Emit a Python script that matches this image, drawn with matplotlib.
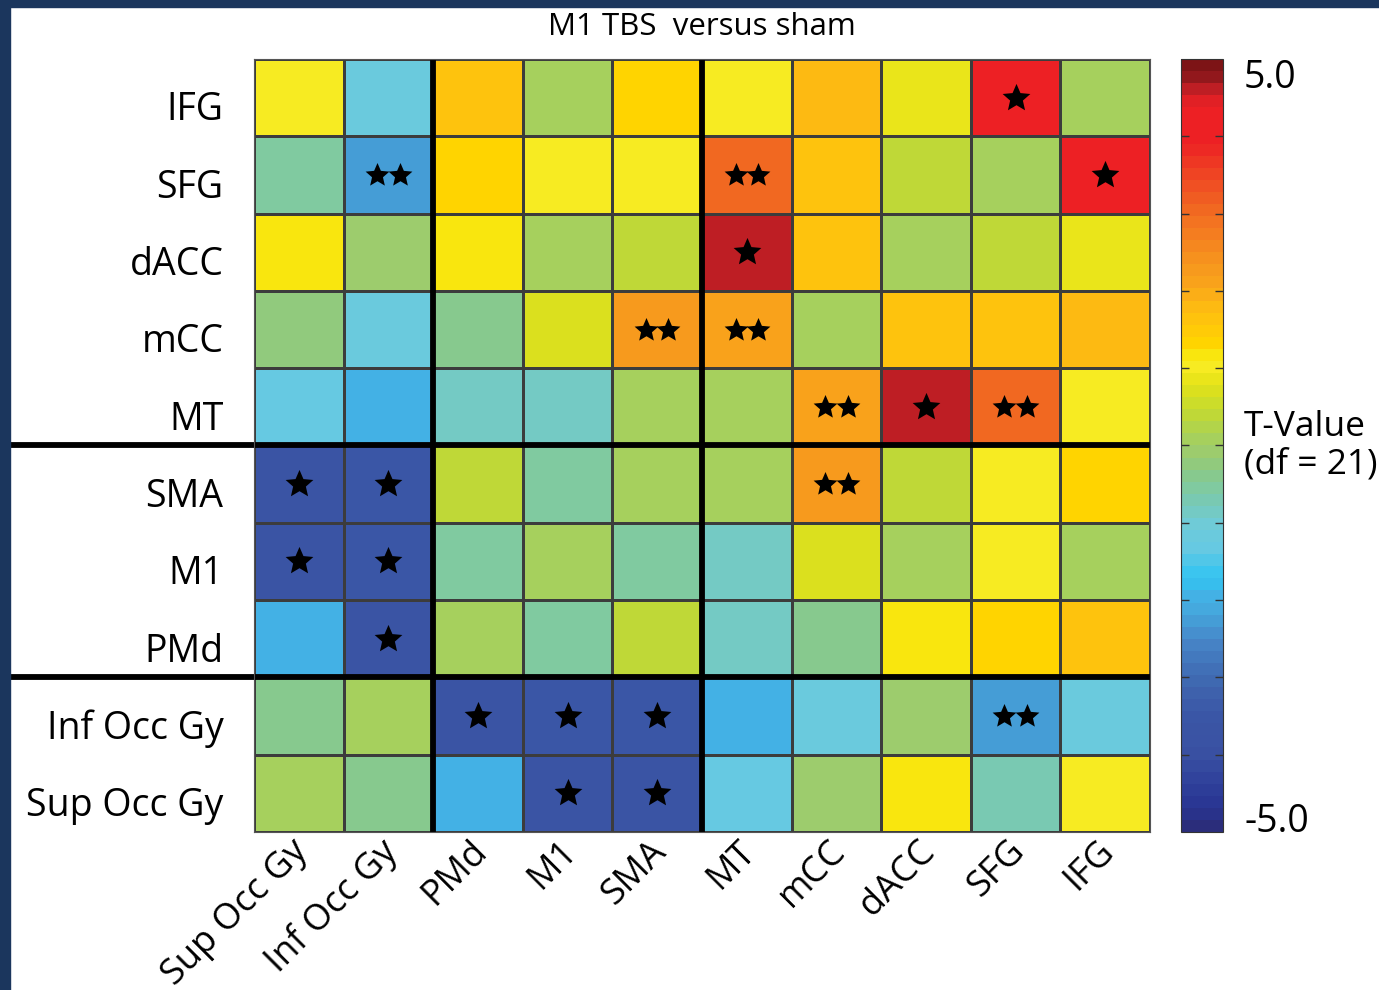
import numpy as np
import matplotlib
matplotlib.use("Agg")
import matplotlib.pyplot as plt
from matplotlib.colors import LinearSegmentedColormap, Normalize
from matplotlib.patches import Rectangle
from matplotlib.path import Path
from matplotlib.transforms import ScaledTranslation

plt.rcParams['font.family'] = ['Open Sans', 'DejaVu Sans']

# regions (rows top -> bottom, columns left -> right)
rows = ['IFG', 'SFG', 'dACC', 'mCC', 'MT', 'SMA', 'M1', 'PMd', 'Inf Occ Gy', 'Sup Occ Gy']
cols = ['Sup Occ Gy', 'Inf Occ Gy', 'PMd', 'M1', 'SMA', 'MT', 'mCC', 'dACC', 'SFG', 'IFG']

# T-values, one list per row
t_ifg    = [1.05, -1.1, 1.6, 0.1, 1.35, 1.05, 1.85, 0.8, 4.2, 0.1]
t_sfg    = [-0.6, -2.2, 1.35, 1.05, 1.05, 3.0, 1.6, 0.45, 0.1, 4.2]
t_dacc   = [1.15, -0.15, 1.15, 0.1, 0.45, 4.6, 1.6, 0.1, 0.45, 0.8]
t_mcc    = [-0.25, -1.1, -0.35, 0.65, 2.3, 2.15, 0.1, 1.6, 1.6, 1.85]
t_mt     = [-1.3, -1.95, -0.8, -0.8, 0.1, 0.1, 2.15, 4.6, 3.0, 1.05]
t_sma    = [-3.7, -3.5, 0.45, -0.55, 0.1, 0.1, 2.3, 0.45, 1.05, 1.35]
t_m1     = [-3.7, -3.5, -0.55, 0.1, -0.55, -0.8, 0.65, 0.1, 1.05, 0.1]
t_pmd    = [-1.95, -3.7, 0.1, -0.55, 0.45, -0.8, -0.35, 1.15, 1.35, 1.6]
t_infocc = [-0.35, 0.1, -3.7, -3.5, -3.5, -1.95, -1.1, -0.15, -2.2, -1.1]
t_supocc = [0.1, -0.35, -1.95, -3.7, -3.7, -1.3, -0.15, 1.15, -0.7, 1.05]

# number of stars per cell
s_ifg    = [0, 0, 0, 0, 0, 0, 0, 0, 1, 0]
s_sfg    = [0, 2, 0, 0, 0, 2, 0, 0, 0, 1]
s_dacc   = [0, 0, 0, 0, 0, 1, 0, 0, 0, 0]
s_mcc    = [0, 0, 0, 0, 2, 2, 0, 0, 0, 0]
s_mt     = [0, 0, 0, 0, 0, 0, 2, 1, 2, 0]
s_sma    = [1, 1, 0, 0, 0, 0, 2, 0, 0, 0]
s_m1     = [1, 1, 0, 0, 0, 0, 0, 0, 0, 0]
s_pmd    = [0, 1, 0, 0, 0, 0, 0, 0, 0, 0]
s_infocc = [0, 0, 1, 1, 1, 0, 0, 0, 2, 0]
s_supocc = [0, 0, 0, 1, 1, 0, 0, 0, 0, 0]

vals = np.array([t_ifg, t_sfg, t_dacc, t_mcc, t_mt, t_sma, t_m1, t_pmd, t_infocc, t_supocc])
stars = np.array([s_ifg, s_sfg, s_dacc, s_mcc, s_mt, s_sma, s_m1, s_pmd, s_infocc, s_supocc])

# colormap anchors (value, colour) taken from the colour bar
anchors = [(-5.0, '#2b2d7b'), (-4.75, '#283592'), (-4.45, '#2f409a'), (-4.0, '#3a52a3'),
           (-3.6, '#3a55a5'), (-3.3, '#3e5fab'), (-3.0, '#406db4'), (-2.6, '#4683c6'),
           (-2.2, '#45a6dc'), (-1.95, '#43b3e6'), (-1.75, '#30c4f2'), (-1.35, '#66c9e2'),
           (-1.05, '#6ecbd9'), (-0.75, '#78c9b6'), (-0.5, '#82ca9a'), (-0.3, '#8cc983'),
           (-0.1, '#9ccc6f'), (0.1, '#a7d05b'), (0.45, '#c3da30'), (0.65, '#d4df24'),
           (0.8, '#e4e216'), (1.05, '#f9ec23'), (1.15, '#f7eb12'), (1.35, '#ffd400'),
           (1.6, '#ffc60b'), (1.85, '#fdb913'), (2.15, '#f9a11b'), (2.35, '#f7981d'),
           (2.7, '#f58220'), (3.0, '#f26f21'), (3.5, '#ef4a23'), (4.0, '#ed2024'),
           (4.45, '#ed2024'), (4.61, '#d21f26'), (4.77, '#a51c22'), (4.92, '#7d1416'),
           (5.0, '#7d1416')]
cmap = LinearSegmentedColormap.from_list('tval', [((v + 5) / 10, c) for v, c in anchors], N=64)
norm = Normalize(-5, 5)

# a slightly chunkier star than the default '*'
star = Path.unit_regular_star(5, 0.46)

fig = plt.figure(figsize=(13.79, 9.90), dpi=100)
W, H = 1379, 990

# navy frame on the left and top
navy = '#1b365d'
fig.patches.append(Rectangle((0, 0), 10 / W, 1, transform=fig.transFigure, color=navy, zorder=0))
fig.patches.append(Rectangle((0, 1 - 7 / H), 1, 7 / H, transform=fig.transFigure, color=navy, zorder=0))

ax = fig.add_axes([254 / W, 1 - 832 / H, 896 / W, 773 / H])
mesh = ax.pcolormesh(vals, cmap=cmap, norm=norm, edgecolors='#3c3c3c', linewidth=0.8)
ax.set_xlim(0, 10)
ax.set_ylim(10, 0)

for r in range(len(rows)):
    for c in range(len(cols)):
        n = stars[r, c]
        if n == 1:
            ax.plot(c + 0.5, r + 0.5, marker=star, ms=21, color='black', mew=0)
        elif n == 2:
            for off in (-0.125, 0.125):
                ax.plot(c + 0.5 + off, r + 0.5, marker=star, ms=18, color='black', mew=0)

# group separators
for x in (2, 5):
    ax.plot([x, x], [0, 10], color='black', lw=4.2, solid_capstyle='butt')
for y in (5, 8):
    ax.plot([-(254 - 10) / 896, 1], [y, y], color='black', lw=4.2,
            transform=ax.get_yaxis_transform(), clip_on=False, solid_capstyle='butt')

ax.set_xticks(np.arange(len(cols)) + 0.5)
ax.set_xticklabels(cols, rotation=45, ha='right', va='top', rotation_mode='anchor', fontsize=26)
ax.set_yticks(np.arange(len(rows)) + 0.5)
ax.set_yticklabels(rows, fontsize=27)
ax.tick_params(axis='y', length=0, pad=22)
ax.tick_params(axis='x', length=0, pad=1)
down = ScaledTranslation(0, -6 / 72, fig.dpi_scale_trans)
for lab in ax.get_yticklabels():
    lab.set_transform(lab.get_transform() + down)
nudge = ScaledTranslation(-9 / 100, 0, fig.dpi_scale_trans)
for lab in ax.get_xticklabels():
    lab.set_transform(lab.get_transform() + nudge)
for sp in ax.spines.values():
    sp.set_color('#555555')
    sp.set_linewidth(0.8)

ax.set_title('M1 TBS  versus sham', fontsize=22.5, pad=17)

# colour bar
cax = fig.add_axes([1181 / W, 1 - 832 / H, 42 / W, 773 / H])
cb = fig.colorbar(mesh, cax=cax, ticks=np.arange(-4, 5))
cb.outline.set_edgecolor('#333333')
cb.outline.set_linewidth(0.8)
cax.tick_params(direction='in', length=6, width=1, color='#333333',
                left=True, right=True, labelright=False, labelleft=False)
cax.text(1.5, 1.0, '5.0', transform=cax.transAxes, ha='left', va='top', fontsize=27)
cax.text(1.5, 0.0, '-5.0', transform=cax.transAxes, ha='left', va='baseline', fontsize=27)
cax.text(1.5, 0.5, 'T-Value\n(df = 21)', transform=cax.transAxes, ha='left', va='center',
         fontsize=25.5, linespacing=1.15)

fig.savefig('out.png', dpi=100)
